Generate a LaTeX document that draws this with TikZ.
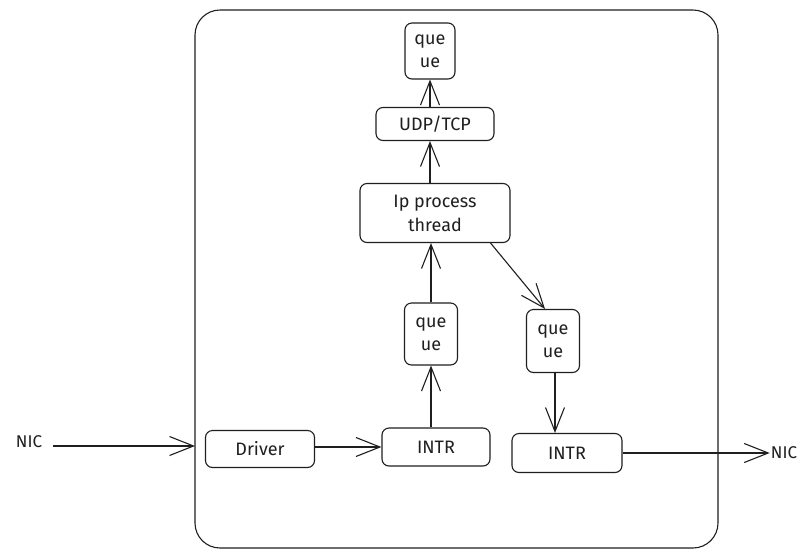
\documentclass[tikz,border=0pt]{standalone}
\usepackage{fontspec}
\setmainfont{Fira Sans}
\usetikzlibrary{arrows.meta}
\begin{document}
\begin{tikzpicture}[x=1pt,y=-1pt,
  box/.style={draw=black!88, line width=1.1pt, rounded corners=7pt, inner sep=0pt,
    font=\fontsize{18}{23}\selectfont, align=center, text=black!88},
  lbl/.style={inner sep=1pt, font=\fontsize{17}{20}\selectfont, text=black!88},
  arr/.style={draw=black!88, line width=1.1pt,
    -{Straight Barb[length=24pt,width=19pt,line width=1.1pt]}}]
\fill[white] (0,0) rectangle (812,558);
\useasboundingbox (0,0) rectangle (812,558);
% frame
\draw[black!88, line width=1.1pt, rounded corners=25pt] (195,10) rectangle (718,548);
% nodes
\node[box, minimum width=50, minimum height=56] (q1) at (430,51) {que\\ue};
\node[box, minimum width=118, minimum height=33] (udp) at (435,124) {UDP/TCP};
\node[box, minimum width=150, minimum height=59, font=\fontsize{18}{24}\selectfont] (ip) at (435,213) {Ip process\\thread};
\node[box, minimum width=53, minimum height=62] (q2) at (431,334) {que\\ue};
\node[box, minimum width=53, minimum height=63] (q3) at (553,341) {que\\ue};
\node[box, minimum width=109, minimum height=37] (drv) at (260,449) {Driver};
\node[box, minimum width=108, minimum height=38] (intr1) at (436,447) {INTR};
\node[box, minimum width=110, minimum height=39] (intr2) at (567,453) {INTR};
\node[lbl] (nicL) at (29,442) {NIC};
\node[lbl] (nicR) at (784,453) {NIC};
\coordinate (inL) at (195,446);
% connectors
\draw[arr] ([xshift=10pt,yshift=-4pt]nicL.east) -- (inL);
\draw[arr] (drv.east |- intr1.west) -- (intr1.west);
\draw[arr] (intr1.north -| q2.south) -- (q2.south);
\draw[arr] (q2.north) -- (ip.south -| q2.north);
\draw[arr] ([xshift=-20pt]ip.south east) -- ([xshift=-8pt]q3.north);
\draw[arr] ([xshift=2pt]q3.south) -- ([xshift=2pt]q3.south |- intr2.north);
\draw[arr] (ip.north -| q1.south) -- (udp.south -| q1.south);
\draw[arr] (udp.north -| q1.south) -- (q1.south);
\draw[arr] (intr2.east) -- (nicR.west |- intr2.east);
\end{tikzpicture}
\end{document}
